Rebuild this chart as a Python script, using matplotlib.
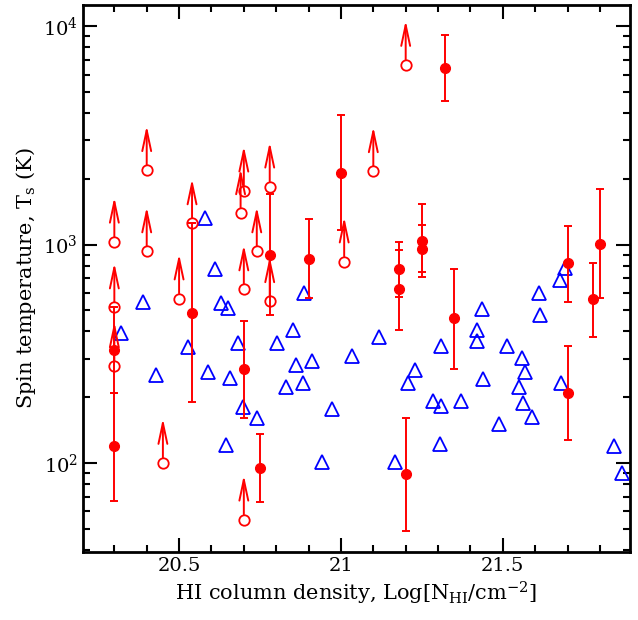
import matplotlib.pyplot as plt
from matplotlib.ticker import MultipleLocator, LogLocator, FuncFormatter, LogFormatterMathtext

plt.rcParams['font.family'] = 'DejaVu Serif'
plt.rcParams['mathtext.fontset'] = 'dejavuserif'

# Lower limits on Ts (open circles with arrows)
lim_x = [20.30, 20.30, 20.30, 20.40, 20.40, 20.45, 20.50, 20.54, 20.69,
         20.70, 20.70, 20.70, 20.74, 20.78, 20.78, 21.01, 21.10, 21.20]
lim_y = [1030, 515, 277, 2190, 930, 100, 566, 1250, 1390,
         1765, 623, 55, 930, 1841, 550, 836, 2165, 6640]

# Detections (filled circles with error bars)
det_x = [20.30, 20.30, 20.54, 20.70, 20.75, 20.78, 20.90, 21.00, 21.18, 21.18,
         21.20, 21.25, 21.25, 21.32, 21.35, 21.70, 21.70, 21.78, 21.80]
det_y = [328, 120, 484, 268, 95, 900, 863, 2135, 769, 623,
         89, 1043, 959, 6430, 459, 819, 209, 561, 1011]
det_lo = [209, 67, 190, 160, 66, 474, 567, 1160, 573, 405,
          49, 745, 714, 4550, 268, 543, 127, 376, 567]
det_hi = [515, 209, 1250, 445, 136, 1710, 1315, 3925, 1032, 948,
          160, 1538, 1234, 9100, 776, 1221, 342, 819, 1803]

# Comparison sample (blue triangles)
tri_x = [20.322, 20.387, 20.430, 20.526, 20.579, 20.588, 20.610, 20.628, 20.644,
         20.650, 20.656, 20.681, 20.697, 20.740, 20.802, 20.830, 20.851, 20.861,
         20.882, 20.885, 20.910, 20.941, 20.972, 21.034, 21.118, 21.167, 21.207,
         21.229, 21.285, 21.310, 21.307, 21.310, 21.372, 21.421, 21.421, 21.437,
         21.440, 21.489, 21.514, 21.551, 21.560, 21.563, 21.570, 21.591, 21.613,
         21.616, 21.678, 21.681, 21.693, 21.842, 21.867]
tri_y = [393, 543, 252, 339, 1328, 261, 769, 538, 121,
         510, 244, 353, 180, 160, 355, 222, 405, 280,
         232, 597, 292, 101, 176, 308, 376, 101, 232,
         266, 192, 182, 122, 342, 192, 405, 361, 505,
         242, 151, 342, 222, 301, 188, 261, 162, 597,
         474, 685, 232, 785, 120, 90]

fig = plt.figure(figsize=(6.38, 6.20), dpi=100)
ax = fig.add_axes([0.130, 0.110, 0.8575, 0.882])

red = '#ff0000'
blue = '#0000ff'

ax.plot(tri_x, tri_y, '^', ms=10, mfc='none', mec=blue, mew=1.3, zorder=2)

yerr = [[y - lo for y, lo in zip(det_y, det_lo)], [hi - y for y, hi in zip(det_y, det_hi)]]
ax.errorbar(det_x, det_y, yerr=yerr, fmt='o', ms=7, color=red, ecolor=red,
            elinewidth=1.4, capsize=3.2, capthick=1.4, zorder=3)

ax.plot(lim_x, lim_y, 'o', ms=7.5, mfc='none', mec=red, mew=1.3, zorder=3)
for x, y in zip(lim_x, lim_y):
    ax.annotate('', xy=(x, y * 1.6), xytext=(x, y),
                arrowprops=dict(arrowstyle='->, head_length=1.5, head_width=0.32',
                                color=red, lw=1.4, shrinkA=3.8, shrinkB=0,
                                mutation_scale=10), zorder=3)

ax.set_yscale('log')
ax.set_xlim(20.203, 21.893)
ax.set_ylim(39.2, 12500)

ax.xaxis.set_major_locator(MultipleLocator(0.5))
ax.xaxis.set_minor_locator(MultipleLocator(0.1))
ax.xaxis.set_major_formatter(FuncFormatter(lambda v, p: '%g' % v))
ax.yaxis.set_major_locator(LogLocator(base=10))
ax.yaxis.set_minor_locator(LogLocator(base=10, subs=range(2, 10)))
ax.yaxis.set_major_formatter(LogFormatterMathtext())

ax.tick_params(which='both', direction='in', top=True, right=True, width=1.5, labelsize=14)
ax.tick_params(which='major', length=10)
ax.tick_params(which='minor', length=5)
for s in ax.spines.values():
    s.set_linewidth(2)

ax.set_xlabel(r'HI column density, Log[N$_{\mathrm{HI}}$/cm$^{-2}$]', fontsize=15)
ax.set_ylabel(r'Spin temperature, T$_{\mathrm{s}}$ (K)', fontsize=15)

fig.savefig('out.png', dpi=100)
